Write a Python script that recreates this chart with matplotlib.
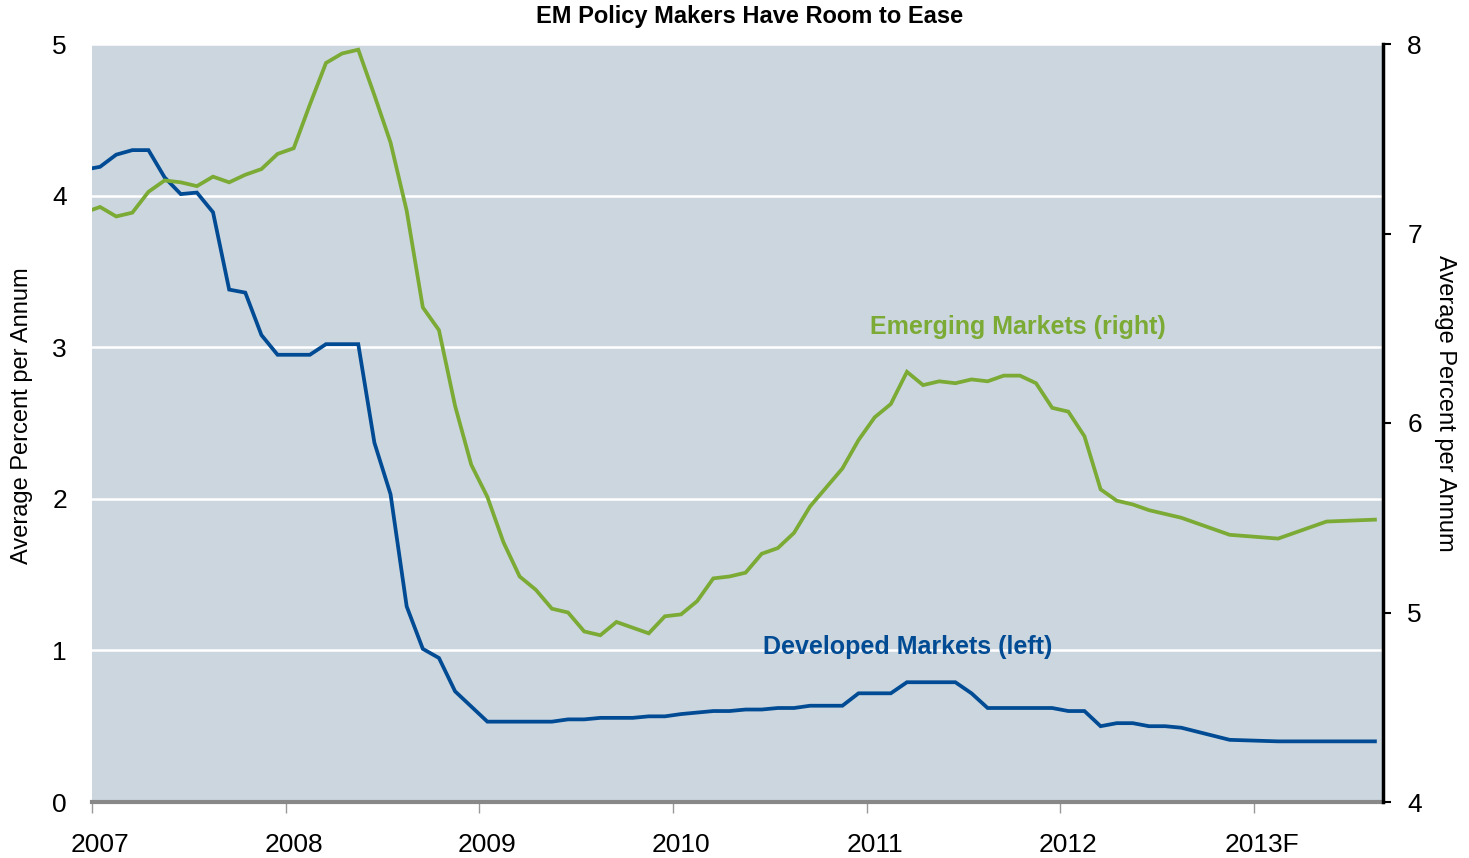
import numpy as np
import pandas as pd
import matplotlib
matplotlib.use('Agg')
import matplotlib.pyplot as plt
import matplotlib.transforms as mtransforms

# monthly history, then quarterly forecast points
months = list(pd.period_range('2006-12', '2012-08', freq='M').strftime('%Y-%m')) + \
    ['2012-11', '2013-02', '2013-05', '2013-08']

developed = [4.17,
             4.19, 4.27, 4.30, 4.30, 4.12, 4.01, 4.02, 3.89, 3.38, 3.36, 3.08, 2.95,
             2.95, 2.95, 3.02, 3.02, 3.02, 2.37, 2.03, 1.29, 1.01, 0.95, 0.73, 0.63,
             0.53, 0.53, 0.53, 0.53, 0.53, 0.545, 0.545, 0.555, 0.555, 0.555, 0.565, 0.565,
             0.58, 0.59, 0.60, 0.60, 0.61, 0.61, 0.62, 0.62, 0.635, 0.635, 0.635, 0.717,
             0.717, 0.717, 0.79, 0.79, 0.79, 0.79, 0.717, 0.62, 0.62, 0.62, 0.62, 0.62,
             0.60, 0.60, 0.50, 0.52, 0.52, 0.50, 0.50, 0.49,
             0.41, 0.40, 0.40, 0.40]

emerging = [7.11,
            7.14, 7.09, 7.11, 7.22, 7.28, 7.27, 7.25, 7.30, 7.27, 7.31, 7.34, 7.42,
            7.45, 7.68, 7.90, 7.95, 7.97, 7.73, 7.48, 7.12, 6.61, 6.49, 6.09, 5.78,
            5.61, 5.37, 5.19, 5.12, 5.02, 5.00, 4.90, 4.88, 4.95, 4.92, 4.89, 4.98,
            4.99, 5.06, 5.18, 5.19, 5.21, 5.31, 5.34, 5.42, 5.56, 5.66, 5.76, 5.91,
            6.03, 6.10, 6.27, 6.20, 6.22, 6.21, 6.23, 6.22, 6.25, 6.25, 6.21, 6.08,
            6.06, 5.93, 5.65, 5.59, 5.57, 5.54, 5.52, 5.50,
            5.41, 5.39, 5.48, 5.49]

years = [2007, 2008, 2009, 2010, 2011, 2012, 2013]
year_labels = ['2007', '2008', '2009', '2010', '2011', '2012', '2013F']

plt.rcParams['font.family'] = ['Liberation Sans Narrow', 'Liberation Sans', 'DejaVu Sans']

dt = pd.to_datetime(months)
x = dt.year + (dt.month - 0.5) / 12.0

BLUE = '#004B93'
GREEN = '#7BAA35'

fig = plt.figure(figsize=(14.69, 8.58), dpi=100)
ax = fig.add_axes([92 / 1469, 1 - 802 / 858, (1383 - 92) / 1469, (802 - 44) / 858])
ax2 = ax.twinx()

ax.set_facecolor('#CBD6DF')
ax.plot(x, developed, color=BLUE, lw=2.7, solid_joinstyle='miter', zorder=3)
ax2.plot(x, emerging, color=GREEN, lw=2.7, solid_joinstyle='miter', zorder=3)

ax.set_xlim(2007, 2013 + 8 / 12)
ax.set_ylim(0, 5)
ax2.set_ylim(4, 8)
ax.set_yticks(range(0, 6))
ax2.set_yticks(range(4, 9))
ax.set_xticks(years)
ax.set_xticklabels(year_labels)

ax.grid(axis='y', color='white', lw=1.8)
ax.set_axisbelow(True)

for s in ['top', 'left', 'right']:
    ax.spines[s].set_visible(False)
    ax2.spines[s].set_visible(False)
ax2.spines['bottom'].set_visible(False)
ax.spines['bottom'].set_color('#888888')
ax.spines['bottom'].set_linewidth(3)
ax2.spines['right'].set_visible(True)
ax2.spines['right'].set_color('black')
ax2.spines['right'].set_linewidth(2.5)

ax.tick_params(axis='x', direction='out', length=8, width=1, color='#999999',
               labelsize=19, pad=14)
ax.tick_params(axis='y', length=0, labelsize=19, pad=18)
ax2.tick_params(axis='y', direction='out', length=6, width=1.5, color='black',
                labelsize=19, pad=11.5)

# year labels sit a little right of their ticks
shift = mtransforms.ScaledTranslation(8 / 100, 0, fig.dpi_scale_trans)
for lbl in ax.get_xticklabels():
    lbl.set_transform(lbl.get_transform() + shift)

fig.text(22 / 1469, 1 - 416 / 858, 'Average Percent per Annum', rotation=90,
         ha='center', va='center', fontsize=17)
fig.text(1445 / 1469, 1 - 403 / 858, 'Average Percent per Annum', rotation=-90,
         ha='center', va='center', fontsize=17)
fig.text(750 / 1469, 1 - 16 / 858, 'EM Policy Makers Have Room to Ease',
         ha='center', va='center', fontsize=17, fontweight='bold')

ax.text(2011.78, 3.13, 'Emerging Markets (right)', color=GREEN, fontsize=18,
        fontweight='bold', ha='center', va='center', zorder=5)
ax.text(2011.21, 1.02, 'Developed Markets (left)', color=BLUE, fontsize=18,
        fontweight='bold', ha='center', va='center', zorder=5)

fig.savefig('out.png', dpi=100)
